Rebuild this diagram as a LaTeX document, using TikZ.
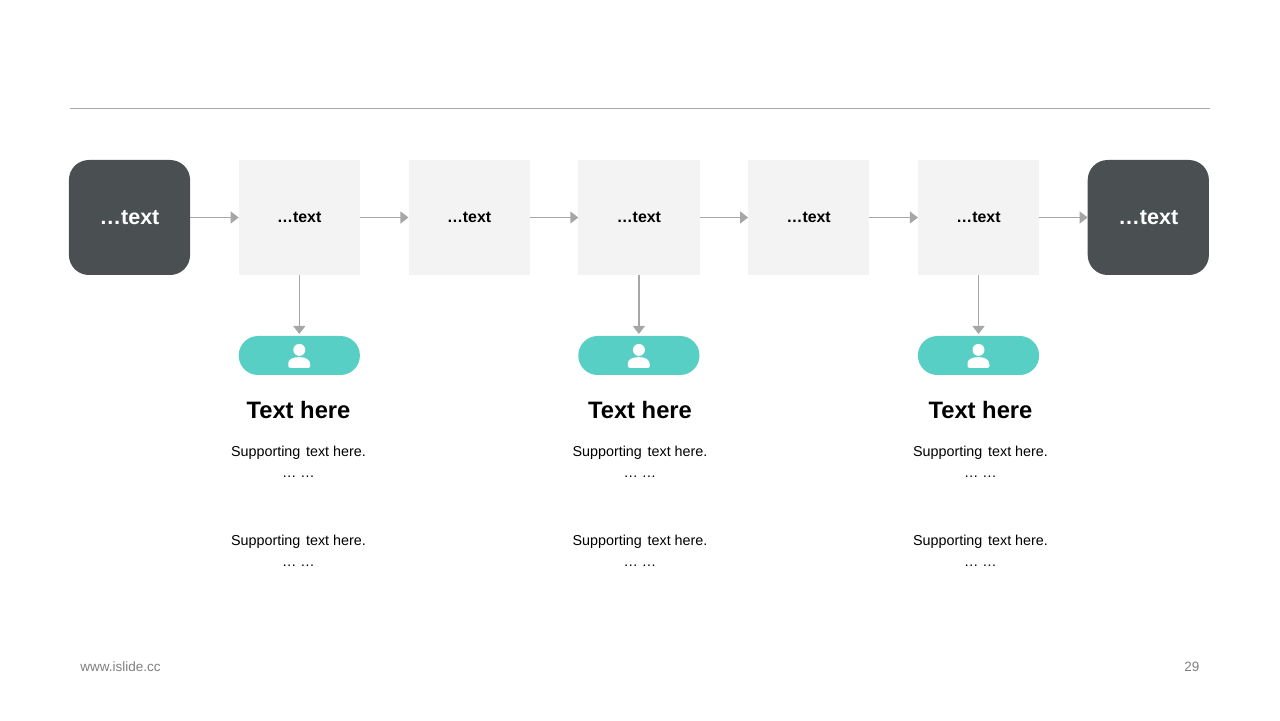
\documentclass[tikz,border=0pt]{standalone}
\usepackage{fontspec}
\setmainfont{Liberation Sans}
\usetikzlibrary{arrows.meta, positioning}
\definecolor{mydark}{RGB}{74,79,81}
\definecolor{mylight}{RGB}{243,243,243}
\definecolor{myteal}{RGB}{88,207,196}
\definecolor{myrule}{RGB}{166,166,166}
\definecolor{myfoot}{RGB}{127,127,127}
\tikzset{
  endblock/.style={rectangle, fill=mydark, text=white, minimum width=3.03cm,
    minimum height=2.875cm, inner sep=0pt, outer sep=0pt, rounded corners=0.5cm,
    font=\fontsize{15.3}{18}\selectfont\bfseries},
  block/.style={rectangle, fill=mylight, text=black, minimum width=3.03cm,
    minimum height=2.875cm, inner sep=0pt, outer sep=0pt,
    font=\fontsize{11.3}{14}\selectfont\bfseries},
  pill/.style={rectangle, fill=myteal, minimum width=3.03cm, outer sep=0pt,
    minimum height=0.975cm, inner sep=0pt, rounded corners=0.485cm},
  head/.style={circle, fill=white, minimum size=0.3cm, inner sep=0pt},
  arrow/.style={-{Triangle[length=5.7pt, width=8.5pt]}, line width=1.05pt, color=myrule},
  title/.style={anchor=base, inner sep=0pt, font=\fontsize{16.9}{20}\selectfont\bfseries},
  support/.style={anchor=base, inner sep=0pt, font=\fontsize{10.2}{13}\selectfont},
  foot/.style={inner sep=0pt, color=myfoot, font=\fontsize{9.6}{12}\selectfont}
}
\begin{document}
\begin{tikzpicture}[node distance=1.215cm]
  \useasboundingbox (0,0) rectangle (32,18);

  % Header rule
  \coordinate (rulea) at (1.75,15.29);
  \coordinate (ruleb) at (30.25,15.29);
  \draw[line width=0.7pt, color=myrule] (rulea) -- (ruleb);

  % Process chain
  \node[endblock] (start) at (3.2375,12.5625) {…text};
  \node[block, right=of start] (boxa) {…text};
  \node[block, right=of boxa] (boxb) {…text};
  \node[block, right=of boxb] (boxc) {…text};
  \node[block, right=of boxc] (boxd) {…text};
  \node[block, right=of boxd] (boxe) {…text};
  \node[endblock, right=of boxe] (finish) {…text};

  % Connections
  \draw[arrow] (start) -- (boxa);
  \draw[arrow] (boxa) -- (boxb);
  \draw[arrow] (boxb) -- (boxc);
  \draw[arrow] (boxc) -- (boxd);
  \draw[arrow] (boxd) -- (boxe);
  \draw[arrow] (boxe) -- (finish);

  % Person pills
  \node[pill, below=1.525cm of boxa] (pilla) {};
  \node[pill, below=1.525cm of boxc] (pillb) {};
  \node[pill, below=1.525cm of boxe] (pillc) {};

  \draw[arrow, shorten >=0.05cm] (boxa) -- (pilla);
  \draw[arrow, shorten >=0.05cm] (boxc) -- (pillb);
  \draw[arrow, shorten >=0.05cm] (boxe) -- (pillc);

  \foreach \n in {a,b,c} {
    \node[head] (head\n) at ([yshift=0.14cm]pill\n.center) {};
    \fill[white, shift={(pill\n.center)}] (-0.275,-0.24)
      .. controls (-0.275,-0.1) and (-0.16,-0.04) .. (0,-0.04)
      .. controls (0.16,-0.04) and (0.275,-0.1) .. (0.275,-0.24)
      [rounded corners=1.5pt] -- (0.275,-0.31) -- (-0.275,-0.31) -- (-0.275,-0.24) -- cycle;
  }

  % Text columns
  \foreach \n/\x in {a/7.4625, b/16, c/24.5125} {
    \node[title] (title\n) at (\x,7.5375) {Text here};
    \node[support] (supa\n) at (\x,6.5875) {Supporting\hspace{0.12em} text here.};
    \node[support] (dota\n) at (\x,6.0675) {… …};
    \node[support] (supb\n) at (\x,4.375) {Supporting\hspace{0.12em} text here.};
    \node[support] (dotb\n) at (\x,3.8425) {… …};
  }

  % Footer
  \node[foot, anchor=base west] (site) at (2,1.225) {www.islide.cc};
  \node[foot, anchor=base east] (page) at (29.99,1.225) {29};
\end{tikzpicture}
\end{document}
